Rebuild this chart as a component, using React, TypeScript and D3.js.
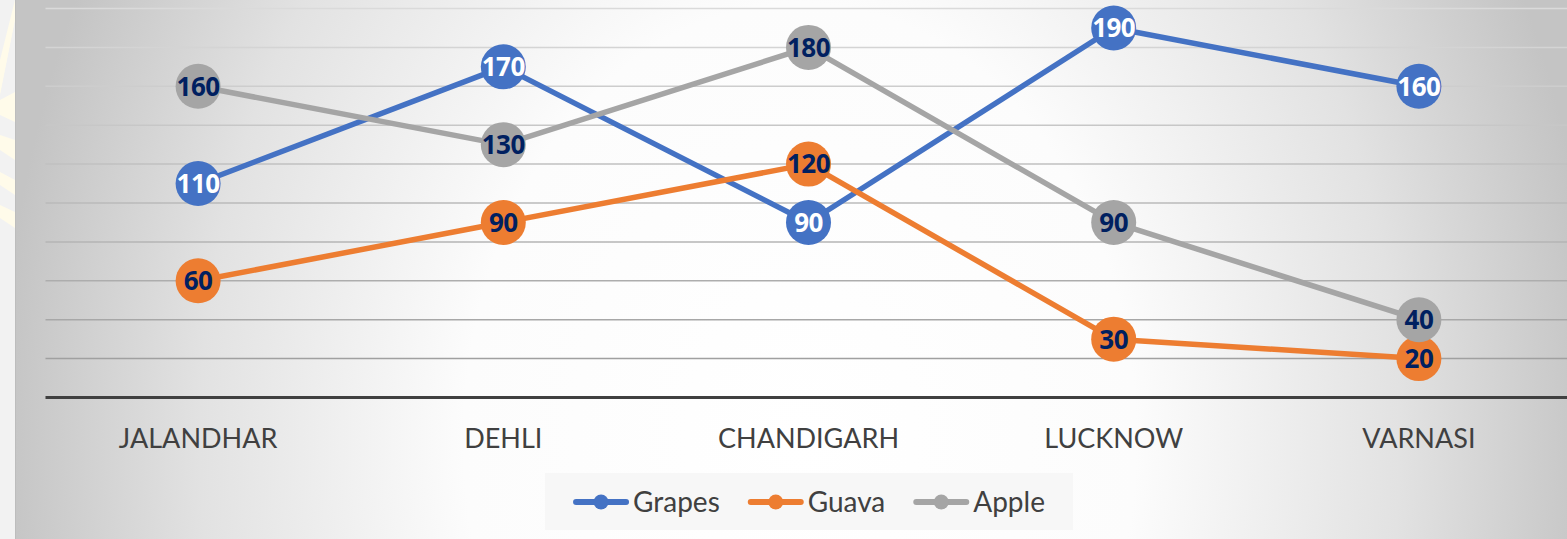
import React, { useEffect, useRef } from 'react';
import * as d3 from 'd3';

const cities = ['JALANDHAR', 'DEHLI', 'CHANDIGARH', 'LUCKNOW', 'VARNASI'];
const grapes = [110, 170, 90, 190, 160];
const guava = [60, 90, 120, 30, 20];
const apple = [160, 130, 180, 90, 40];
const seriesNames = ['Grapes', 'Guava', 'Apple'];
const yTicks = [0, 20, 40, 60, 80, 100, 120, 140, 160, 180, 200];

const App = () => {
	const container = useRef<SVGSVGElement | null>(null);

	useEffect(() => {
		document.body.style.margin = '0';
		draw();
	}, []);

	const draw = () => {
		const svg = d3.select(container.current);
		svg.selectAll('*').remove();

		const width = 1567;
		const height = 539;
		const font = 'Lato, "Open Sans", sans-serif';
		const labelFont = '"Open Sans", Lato, sans-serif';

		const colors = ['#4472C4', '#ED7D31', '#A5A5A5'];
		const labelColors = ['#ffffff', '#002060', '#002060'];
		const values = [grapes, guava, apple];

		const x = d3.scalePoint().domain(cities).range([45.5, 1571.5]).padding(0.5);
		const y = d3.scaleLinear().domain([0, 200]).range([397.5, 8.5]);

		// background: elliptical gradient, bright in the middle column
		const defs = svg.append('defs');
		const grad = defs
			.append('radialGradient')
			.attr('id', 'bg-grad')
			.attr('gradientUnits', 'userSpaceOnUse')
			.attr('cx', 800)
			.attr('cy', 440)
			.attr('r', 800)
			.attr('gradientTransform', 'translate(800,440) scale(1,1.3) translate(-800,-440)');
		grad.append('stop').attr('offset', 0).attr('stop-color', '#ffffff');
		grad.append('stop').attr('offset', 0.42).attr('stop-color', '#fcfcfc');
		grad.append('stop').attr('offset', 0.75).attr('stop-color', '#e2e2e2');
		grad.append('stop').attr('offset', 1).attr('stop-color', '#c4c4c4');

		svg.append('rect').attr('width', width).attr('height', height).attr('fill', '#f2f2f2');

		// pale rays in the left strip
		const rays = [
			[[0, 95], [15, 20], [15, 0], [0, 60]],
			[[0, 100], [15, 92], [15, 122], [0, 115]],
			[[0, 135], [15, 140], [15, 160], [0, 150]],
			[[0, 172], [15, 180], [15, 195], [0, 185]],
			[[0, 205], [15, 212], [15, 228], [0, 218]],
		];
		svg.selectAll('.ray')
			.data(rays)
			.join('polygon')
			.attr('class', 'ray')
			.attr('points', d => d.map(p => p.join(',')).join(' '))
			.attr('fill', '#fffbea');

		svg.append('rect')
			.attr('x', 15)
			.attr('width', width - 15)
			.attr('height', height)
			.attr('fill', 'url(#bg-grad)');
		svg.append('line')
			.attr('x1', 15.5)
			.attr('x2', 15.5)
			.attr('y1', 0)
			.attr('y2', height)
			.attr('stroke', '#bdbdbd')
			.attr('stroke-width', 1);

		// gridlines
		const gridColor = d3.interpolateRgb('#dadada', '#9a9a9a');
		svg.selectAll('.grid')
			.data(yTicks.filter(t => t > 0))
			.join('line')
			.attr('class', 'grid')
			.attr('x1', 45.5)
			.attr('x2', width)
			.attr('y1', d => y(d))
			.attr('y2', d => y(d))
			.attr('stroke', d => gridColor(1 - d / 200))
			.attr('stroke-width', 1.5);

		svg.append('line')
			.attr('x1', 45.5)
			.attr('x2', width)
			.attr('y1', y(0))
			.attr('y2', y(0))
			.attr('stroke', '#404040')
			.attr('stroke-width', 3);

		// category labels
		svg.selectAll('.cat')
			.data(cities)
			.join('text')
			.attr('class', 'cat')
			.attr('x', d => x(d))
			.attr('y', 448)
			.attr('text-anchor', 'middle')
			.attr('font-family', font)
			.attr('font-size', 27)
			.attr('fill', '#404040')
			.text(d => d);

		// series
		const line = d3
			.line<number>()
			.x((d, i) => x(cities[i]))
			.y(d => y(d));

		values.forEach((vals, s) => {
			const g = svg.append('g').attr('class', 'series');
			g.append('path')
				.attr('d', line(vals))
				.attr('fill', 'none')
				.attr('stroke', colors[s])
				.attr('stroke-width', 5.5)
				.attr('stroke-linejoin', 'round')
				.attr('stroke-linecap', 'round');
			g.selectAll('circle')
				.data(vals)
				.join('circle')
				.attr('cx', (d, i) => x(cities[i]))
				.attr('cy', d => y(d))
				.attr('r', 22.5)
				.attr('fill', colors[s]);
		});

		// data labels on top
		values.forEach((vals, s) => {
			svg.append('g')
				.selectAll('text')
				.data(vals)
				.join('text')
				.attr('x', (d, i) => x(cities[i]))
				.attr('y', d => y(d))
				.attr('dy', '0.36em')
				.attr('text-anchor', 'middle')
				.attr('font-family', labelFont)
				.attr('font-weight', 'bold')
				.attr('font-size', 26)
				.attr('letter-spacing', -0.5)
				.attr('fill', labelColors[s])
				.text(d => d);
		});

		// legend
		const legend = svg.append('g').attr('class', 'legend');
		legend
			.append('rect')
			.attr('x', 545)
			.attr('y', 473)
			.attr('width', 528)
			.attr('height', 57)
			.attr('fill', '#f7f7f7');

		const items = legend.append('g');
		let cursor = 0;
		seriesNames.forEach((name, s) => {
			const it = items.append('g').attr('transform', `translate(${cursor},0)`);
			it.append('line')
				.attr('x1', 3)
				.attr('x2', 53)
				.attr('y1', 0)
				.attr('y2', 0)
				.attr('stroke', colors[s])
				.attr('stroke-width', 6)
				.attr('stroke-linecap', 'round');
			it.append('circle').attr('cx', 28).attr('cy', 0).attr('r', 7.5).attr('fill', colors[s]);
			const t = it
				.append('text')
				.attr('x', 60)
				.attr('y', 10)
				.attr('font-family', font)
				.attr('font-size', 28)
				.attr('fill', '#404040')
				.text(name);
			const tw = (t.node() as SVGTextElement).getComputedTextLength();
			cursor += 60 + tw + 28;
		});
		const total = cursor - 28;
		items.attr('transform', `translate(${809 - total / 2},502)`);
	};

	return <svg ref={container} width={1567} height={539} style={{ display: 'block' }}></svg>;
};

export default App;
